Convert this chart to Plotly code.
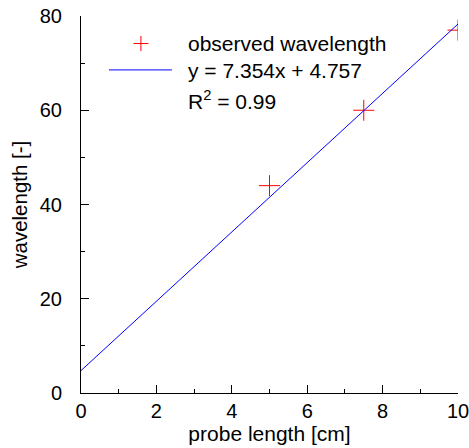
import plotly.graph_objects as go

# data
probe_length = [5.0, 7.5, 10.0]
wavelength = [44.0, 60.0, 77.0]
slope = 7.354
intercept = 4.757
r_squared = 0.99
fit_x = [0.0, 10.0]
fit_y = [slope * x + intercept for x in fit_x]

marker_label = "observed wavelength"
fit_label = f"y = {slope:.3f}x + {intercept:.3f}"
r2_label = f"R<sup>2</sup> = {r_squared:.2f}"

FONT = "Liberation Sans, Arial, sans-serif"
RED = "rgb(255,0,0)"
BLUE = "rgb(0,0,255)"

fig = go.Figure()
fig.add_trace(go.Scatter(
    x=probe_length, y=wavelength, mode="markers", name=marker_label, showlegend=False,
    hoverinfo="skip",
    marker=dict(symbol="cross-thin-open", size=15, opacity=1, color=RED,
                line=dict(color=RED, width=1)),
))
fig.add_trace(go.Scatter(
    x=fit_x, y=fit_y, mode="lines", name=fit_label, showlegend=False,
    hoverinfo="skip",
    line=dict(color=BLUE, width=1),
))

# manual legend (paper coordinates)
leg_text_x = 0.281
leg_rows = [0.927, 0.855, 0.776]
shapes = [
    dict(type="line", xref="paper", yref="paper", xsizemode="pixel", xanchor=0.1589,
         x0=-7.5, x1=7.5, y0=leg_rows[0], y1=leg_rows[0], line=dict(color=RED, width=1)),
    dict(type="line", xref="paper", yref="paper", ysizemode="pixel", yanchor=leg_rows[0],
         x0=0.1589, x1=0.1589, y0=-7.5, y1=7.5, line=dict(color=RED, width=1)),
    dict(type="line", xref="paper", yref="paper", x0=0.0742, x1=0.2411,
         y0=0.857, y1=0.857, line=dict(color=BLUE, width=1)),
]
annotations = [
    dict(text=t, xref="paper", yref="paper", x=leg_text_x, y=yy, xanchor="left",
         yanchor="middle", showarrow=False, borderpad=0,
         font=dict(family=FONT, size=21, color="black"))
    for t, yy in zip([marker_label, fit_label, r2_label], leg_rows)
]

fig.update_layout(
    width=469, height=448,
    margin=dict(l=81, r=10.5, t=16, b=55, autoexpand=False),
    paper_bgcolor="white", plot_bgcolor="white",
    font=dict(family=FONT, size=20, color="black"),
    showlegend=False, hovermode=False,
    shapes=shapes, annotations=annotations,
    xaxis=dict(range=[0, 10], dtick=2, tick0=0, showline=True, linecolor="black", linewidth=1,
               ticks="inside", ticklen=8, tickcolor="black", showgrid=False, zeroline=False,
               automargin=False, ticklabeloverflow="allow",
               minor=dict(dtick=1, ticks="inside", ticklen=4, tickcolor="black", showgrid=False),
               title=dict(text="probe length [cm]", standoff=2, font=dict(size=21)),
               tickfont=dict(size=20)),
    yaxis=dict(range=[0, 80], dtick=20, tick0=0, showline=True, linecolor="black", linewidth=1,
               ticks="inside", ticklen=8, tickcolor="black", showgrid=False, zeroline=False,
               automargin=False, ticklabeloverflow="allow",
               minor=dict(dtick=10, ticks="inside", ticklen=4, tickcolor="black", showgrid=False),
               title=dict(text="wavelength [-]", standoff=6, font=dict(size=20.5)),
               ticklabelstandoff=14,
               tickfont=dict(size=20)),
)

fig.write_html("out.html", config={"displayModeBar": False},
               post_script="document.body.style.margin='0';document.body.style.overflow='hidden';")
